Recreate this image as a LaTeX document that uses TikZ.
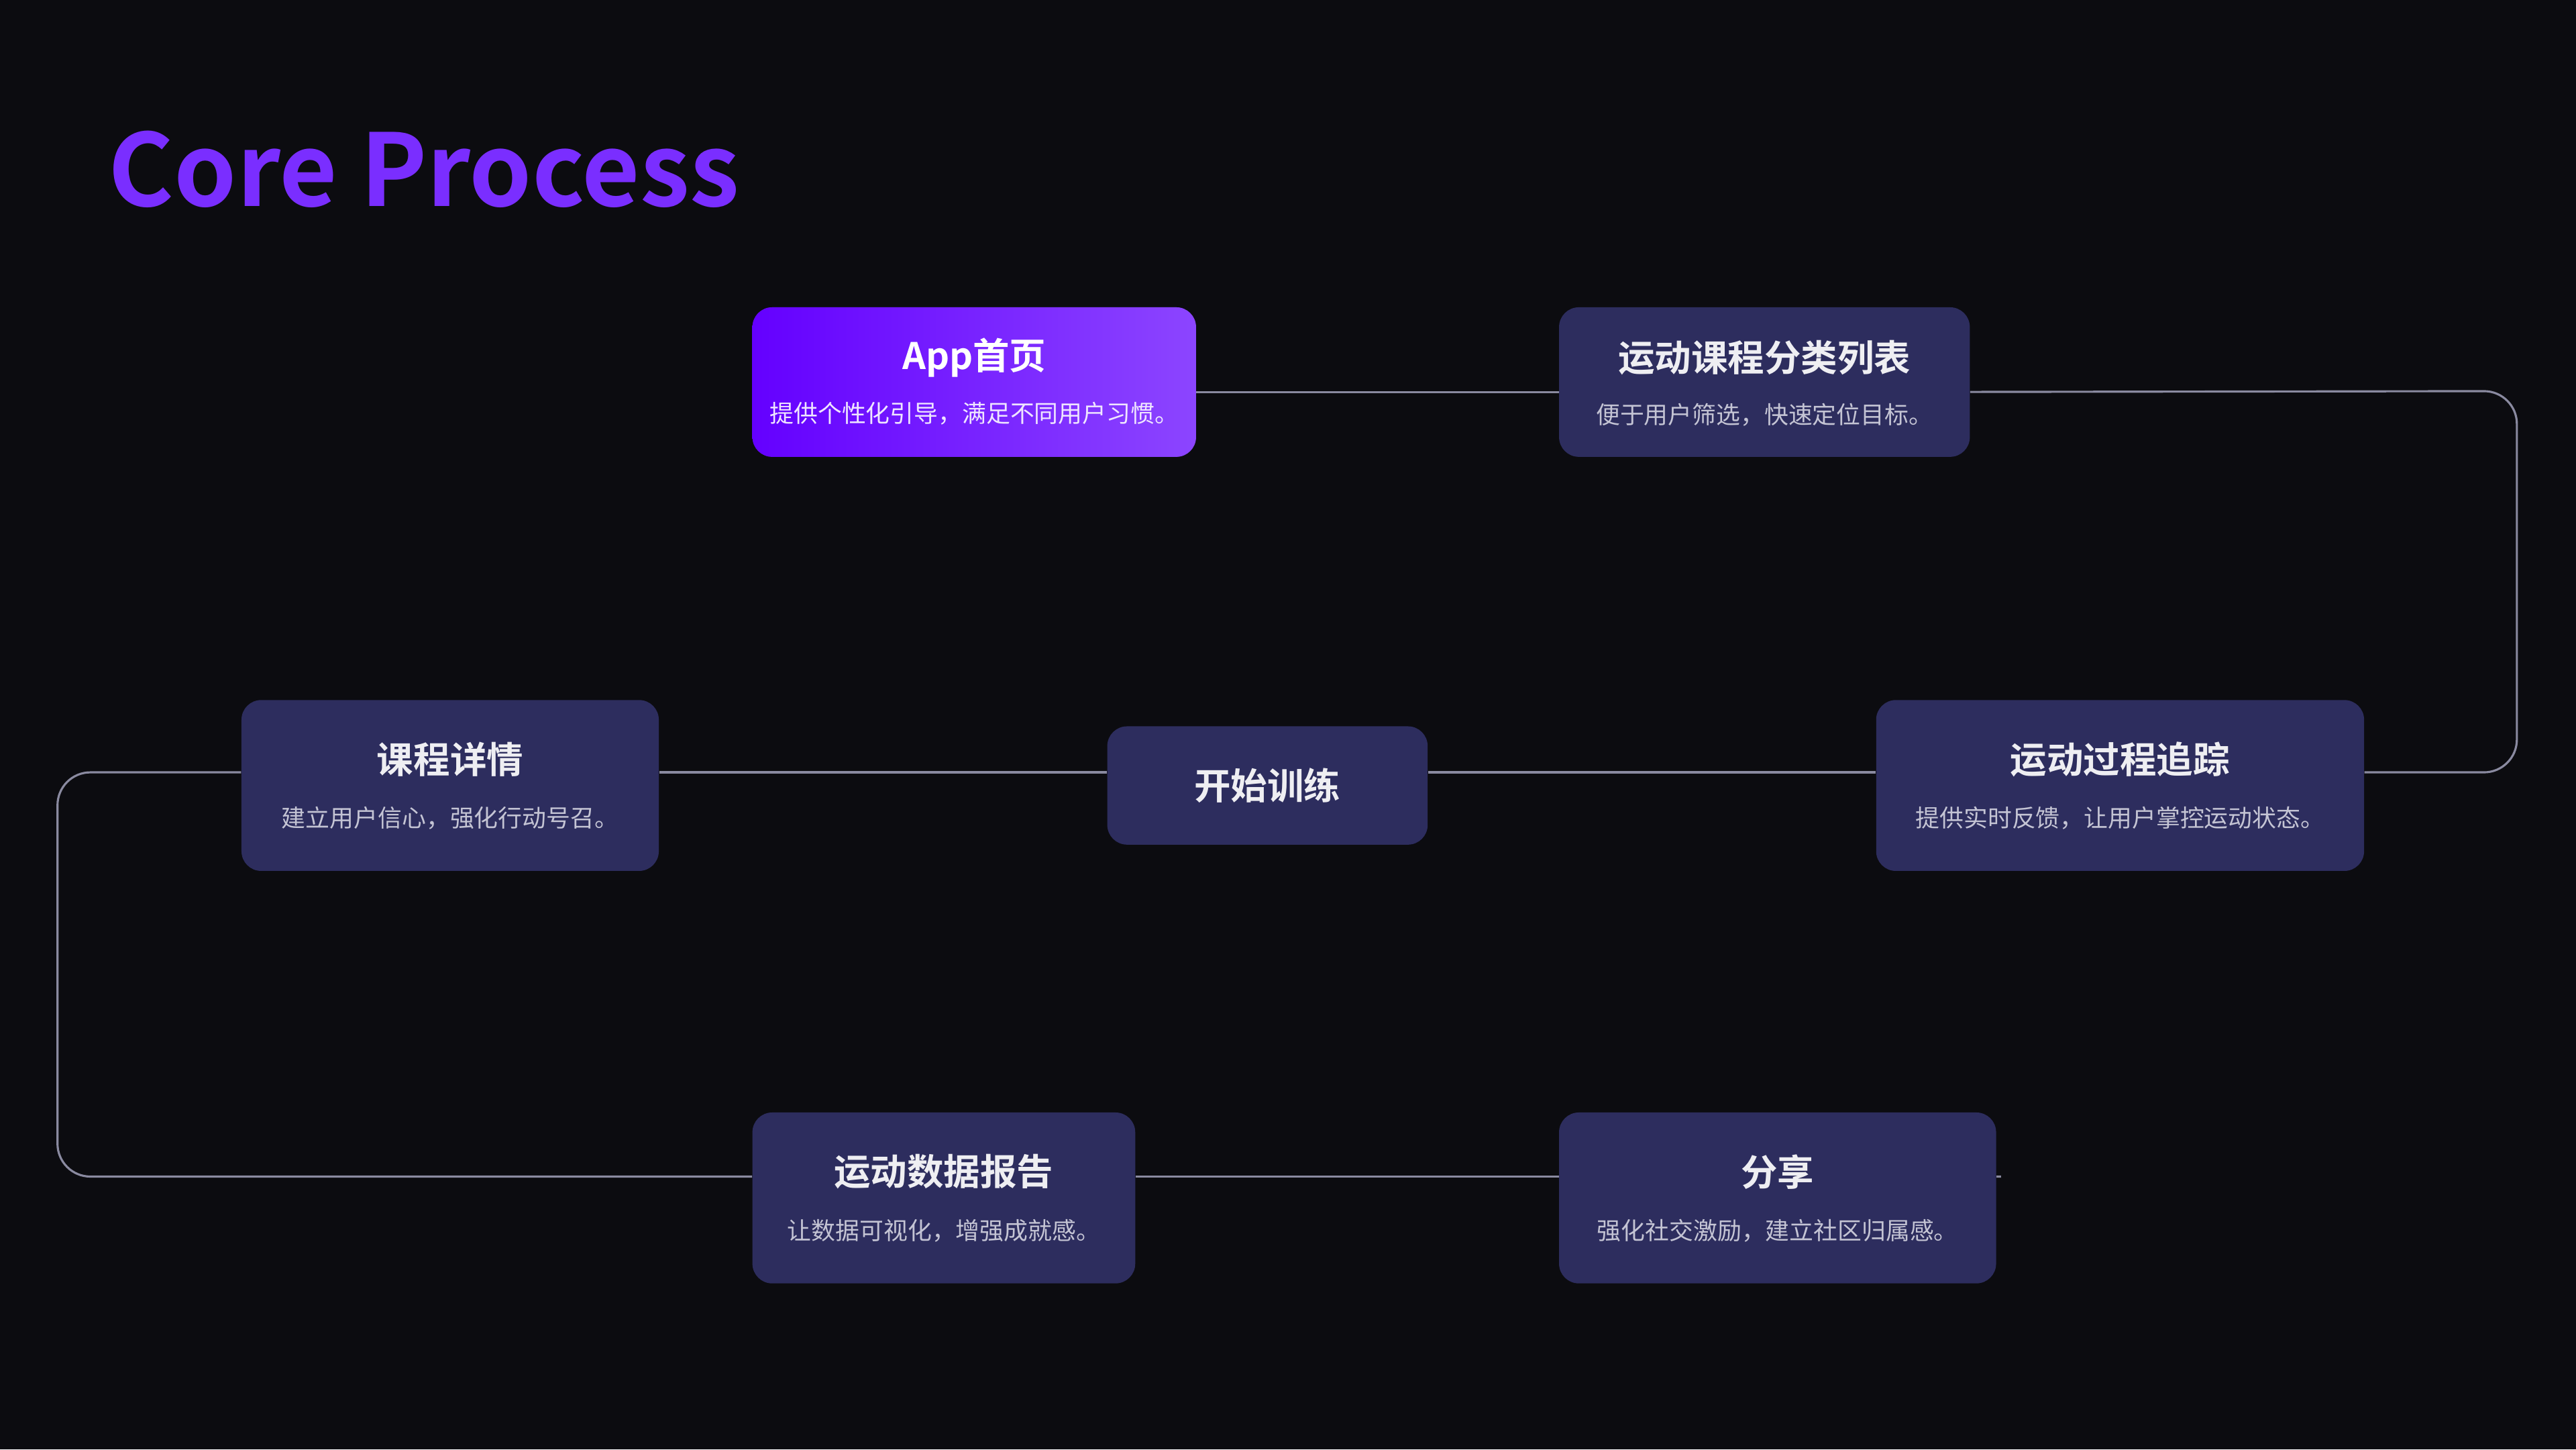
\documentclass[tikz,border=0pt]{standalone}
\usepackage{fontspec}
\setmainfont{Noto Sans CJK SC}
\newfontfamily\cjkb{Noto Sans CJK SC Bold}
\usetikzlibrary{positioning}
\definecolor{bgc}{HTML}{0C0C10}
\definecolor{boxc}{HTML}{2D2D5E}
\definecolor{gradl}{HTML}{6400FF}
\definecolor{gradr}{HTML}{8C45FF}
\definecolor{titc}{HTML}{7A2EFF}
\definecolor{linec}{HTML}{8A8AA0}
\definecolor{subc}{HTML}{C4C4D4}
\tikzset{
  card/.style={rectangle,rounded corners=0.36cm,fill=boxc,inner sep=0pt},
  hd/.style={font=\cjkb\fontsize{19}{22}\selectfont,text=white!92!boxc},
  sb/.style={font=\fontsize{12.5}{15}\selectfont,text=subc},
  conn/.style={draw=linec,line width=1.1pt,rounded corners=0.6cm}
}
\begin{document}
\begin{tikzpicture}[x=0.03cm,y=-0.03cm]
\fill[bgc] (0,0) rectangle (1568,882);
\useasboundingbox (0,0) rectangle (1568,882);
\node[anchor=west,text=titc,font=\cjkb\fontsize{52}{60}\selectfont] (title) at (62,103) {Core Process};
% cards
\node[card,minimum width=8.1cm,minimum height=2.73cm,left color=gradl,right color=gradr] (a) at (593,232.5) {};
\node[card,minimum width=7.5cm,minimum height=2.73cm] (b) at (1074,232.5) {};
\node[card,minimum width=7.62cm,minimum height=3.12cm] (c) at (274,478) {};
\node[card,minimum width=5.85cm,minimum height=2.16cm] (d) at (771.5,478) {};
\node[card,minimum width=8.91cm,minimum height=3.12cm] (e) at (1290.5,478) {};
\node[card,minimum width=6.99cm,minimum height=3.12cm] (f) at (574.5,729) {};
\node[card,minimum width=7.98cm,minimum height=3.12cm] (g) at (1082,729) {};
% texts
\node[hd,text=white] (at) at ([yshift=0.45cm]a.center) {App首页};
\node[sb,text=white!90!gradl] (as) at ([yshift=-0.57cm]a.center) {提供个性化引导，满足不同用户习惯。};
\node[hd] (bt) at ([yshift=0.45cm]b.center) {运动课程分类列表};
\node[sb] (bs) at ([yshift=-0.6cm]b.center) {便于用户筛选，快速定位目标。};
\node[hd] (ct) at ([yshift=0.48cm]c.center) {课程详情};
\node[sb] (cs) at ([yshift=-0.6cm]c.center) {建立用户信心，强化行动号召。};
\node[hd] (dt) at (d.center) {开始训练};
\node[hd] (et) at ([yshift=0.48cm]e.center) {运动过程追踪};
\node[sb] (es) at ([yshift=-0.6cm]e.center) {提供实时反馈，让用户掌控运动状态。};
\node[hd] (ft) at ([yshift=0.48cm]f.center) {运动数据报告};
\node[sb] (fs) at ([yshift=-0.6cm]f.center) {让数据可视化，增强成就感。};
\node[hd] (gt) at ([yshift=0.48cm]g.center) {分享};
\node[sb] (gs) at ([yshift=-0.6cm]g.center) {强化社交激励，建立社区归属感。};
% connectors
\coordinate (r1) at (1532,238);
\coordinate (r2) at (1532,470);
\coordinate (l1) at (35,470);
\coordinate (l2) at (35,716);
\coordinate (gend) at (1218,716);
\begin{scope}[on background layer/.style={}]
\draw[conn] ([yshift=-0.18cm]a.east) -- ([yshift=-0.18cm]b.west);
\draw[conn] ([yshift=-0.18cm]b.east) -- (r1) -- (r2) -- ([yshift=0.24cm]e.east);
\draw[conn] ([yshift=0.24cm]e.west) -- ([yshift=0.24cm]d.east);
\draw[conn] ([yshift=0.24cm]d.west) -- ([yshift=0.24cm]c.east);
\draw[conn] ([yshift=0.24cm]c.west) -- (l1) -- (l2) -- ([yshift=0.39cm]f.west);
\draw[conn] ([yshift=0.39cm]f.east) -- ([yshift=0.39cm]g.west);
\draw[conn] ([yshift=0.39cm]g.east) -- (gend);
\end{scope}
\end{tikzpicture}
\end{document}
